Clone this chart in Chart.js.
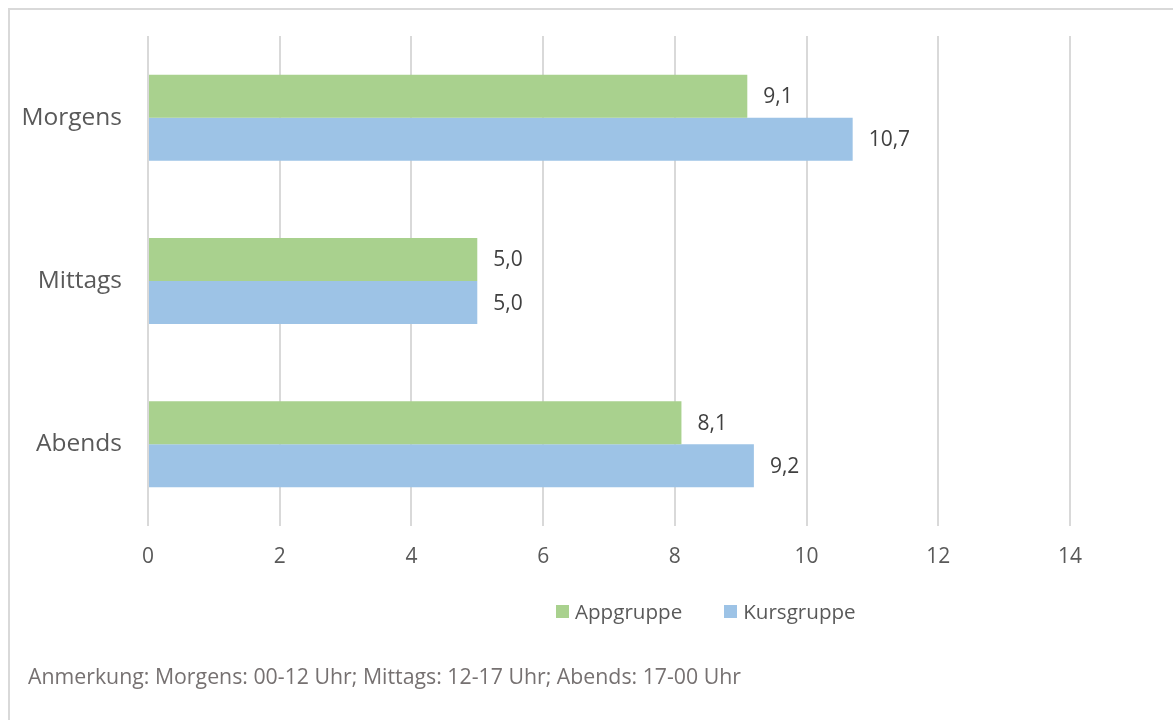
<!DOCTYPE html>
<html>
<head>
<meta charset="utf-8">
<script src="https://cdn.jsdelivr.net/npm/chart.js@4"></script>
<style>
  html, body { margin:0; padding:0; background:#fff; }
  body { width:1173px; height:720px; position:relative; overflow:hidden; font-family:"Open Sans", sans-serif; }
  #frame { position:absolute; left:8px; top:8px; width:1200px; height:760px; border-left:2px solid #d9d9d9; border-top:2px solid #d9d9d9; box-sizing:border-box; }
  #wrap { position:absolute; left:0; top:0; width:1173px; height:720px; }
  #legend { position:absolute; top:598px; left:556px; height:26px; display:flex; align-items:center; font-size:20.6px; color:#595959; }
  .item { display:flex; align-items:center; }
  .box { width:13px; height:13px; margin-right:6px; }
  #note { position:absolute; left:28px; top:661px; font-size:21.3px; line-height:29px; color:#767171; white-space:nowrap; }
</style>
</head>
<body>
<div id="frame"></div>
<div id="wrap"><canvas id="c" width="1173" height="720"></canvas></div>
<div id="legend"></div>
<div id="note"></div>
<script>
const categories = ["Morgens", "Mittags", "Abends"];
const seriesNames = ["Appgruppe", "Kursgruppe"];
const appgruppe = [9.1, 5.0, 8.1];
const kursgruppe = [10.7, 5.0, 9.2];
const xTicks = [0, 2, 4, 6, 8, 10, 12, 14];
const colors = ["#a9d18e", "#9dc3e6"];
const noteText = "Anmerkung: Morgens: 00-12 Uhr; Mittags: 12-17 Uhr; Abends: 17-00 Uhr";

const fmt = v => v.toFixed(1).replace(".", ",");

const dataLabels = {
  id: "dataLabels",
  afterDatasetsDraw(chart) {
    const ctx = chart.ctx;
    ctx.save();
    ctx.font = "21px 'Open Sans'";
    ctx.fillStyle = "#404040";
    ctx.textAlign = "left";
    ctx.textBaseline = "middle";
    chart.data.datasets.forEach((ds, di) => {
      chart.getDatasetMeta(di).data.forEach((bar, i) => {
        ctx.fillText(fmt(ds.data[i]), bar.x + 16, bar.y + 1);
      });
    });
    ctx.restore();
  }
};

new Chart(document.getElementById("c"), {
  type: "bar",
  data: {
    labels: categories,
    datasets: [
      { label: seriesNames[0], data: appgruppe, backgroundColor: colors[0] },
      { label: seriesNames[1], data: kursgruppe, backgroundColor: colors[1] }
    ]
  },
  options: {
    indexAxis: "y",
    responsive: false,
    animation: false,
    events: [],
    categoryPercentage: 0.527,
    barPercentage: 1.0,
    layout: { padding: { left: 0, top: 36, right: 103, bottom: 134 } },
    plugins: { legend: { display: false }, tooltip: { enabled: false } },
    scales: {
      x: {
        min: 0, max: 14,
        afterBuildTicks: s => { s.ticks = xTicks.map(v => ({ value: v })); },
        afterFit: s => { s.height = 60; s.paddingLeft = 0; s.paddingRight = 0; },
        grid: { color: "#d9d9d9", lineWidth: 2, drawTicks: false },
        border: { display: false },
        ticks: { padding: 18, color: "#595959", font: { family: "Open Sans", size: 21 } }
      },
      y: {
        afterFit: s => { s.width = 148; s.paddingTop = 0; s.paddingBottom = 0; },
        grid: { display: false, drawTicks: false },
        border: { display: false },
        ticks: { padding: 26, color: "#595959", font: { family: "Open Sans", size: 24.5 } }
      }
    }
  },
  plugins: [dataLabels]
});

const legend = document.getElementById("legend");
seriesNames.forEach((n, i) => {
  const it = document.createElement("div");
  it.className = "item";
  if (i > 0) it.style.marginLeft = "42px";
  const b = document.createElement("div");
  b.className = "box";
  b.style.background = colors[i];
  const t = document.createElement("span");
  t.textContent = n;
  it.appendChild(b); it.appendChild(t);
  legend.appendChild(it);
});
document.getElementById("note").textContent = noteText;
</script>
</body>
</html>
